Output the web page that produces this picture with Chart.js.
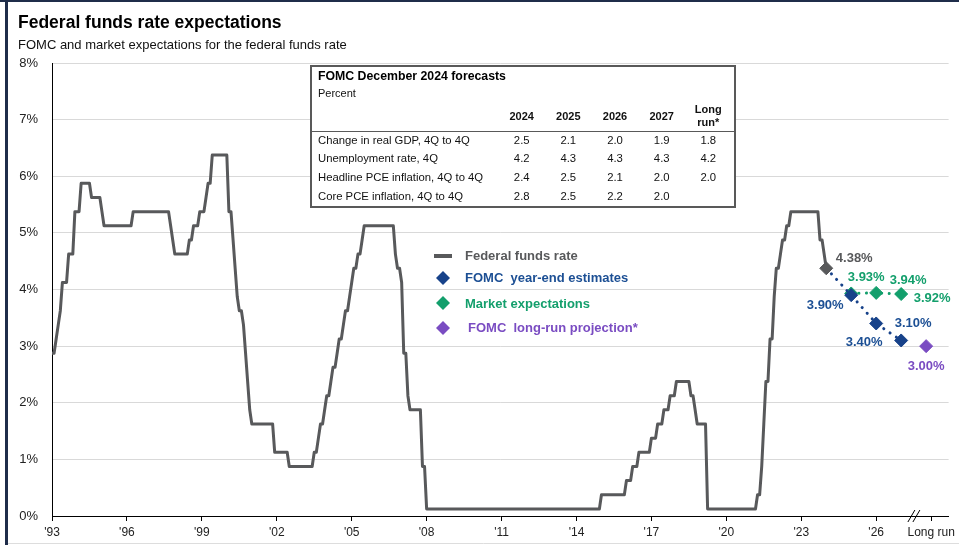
<!DOCTYPE html>
<html>
<head>
<meta charset="utf-8">
<title>Federal funds rate expectations</title>
<script src="https://cdn.jsdelivr.net/npm/chart.js@4.4.1/dist/chart.umd.min.js"></script>
<style>
  html, body { margin: 0; padding: 0; background: #fff; }
  #wrap { position: relative; width: 959px; height: 545px; overflow: hidden; }
</style>
</head>
<body>
<div id="wrap"><canvas id="chart" width="959" height="545"></canvas></div>
<script>
// Federal funds rate, month-end (vertices of the line)
const ffrMonths = [
  '1993-12','1994-01','1994-02','1994-03','1994-04','1994-05','1994-07','1994-08','1994-10','1994-11',
  '1995-01','1995-02','1995-06','1995-07','1995-11','1995-12','1996-01','1997-02','1997-03','1998-08',
  '1998-09','1998-10','1998-11','1999-05','1999-06','1999-07','1999-08','1999-10','1999-11','2000-01',
  '2000-02','2000-03','2000-04','2000-05','2000-12','2001-01','2001-02','2001-03','2001-04','2001-05',
  '2001-06','2001-07','2001-08','2001-09','2001-10','2001-11','2001-12','2002-10','2002-11','2003-05',
  '2003-06','2004-05','2004-06','2004-07','2004-08','2004-09','2004-10','2004-11','2004-12','2005-01',
  '2005-02','2005-03','2005-04','2005-05','2005-06','2005-07','2005-08','2005-09','2005-10','2005-11',
  '2005-12','2006-01','2006-02','2006-03','2006-04','2006-05','2006-06','2007-08','2007-09','2007-10',
  '2007-11','2007-12','2008-01','2008-02','2008-03','2008-04','2008-09','2008-10','2008-11','2008-12',
  '2015-11','2015-12','2016-11','2016-12','2017-02','2017-03','2017-05','2017-06','2017-11','2017-12',
  '2018-02','2018-03','2018-05','2018-06','2018-08','2018-09','2018-11','2018-12','2019-06','2019-07',
  '2019-08','2019-09','2019-10','2020-02','2020-03','2022-02','2022-03','2022-04','2022-05','2022-06',
  '2022-07','2022-08','2022-09','2022-10','2022-11','2022-12','2023-01','2023-02','2023-03','2023-04',
  '2023-05','2023-06','2023-07','2024-08','2024-09','2024-10','2024-11','2024-12'
];
const ffrValues = [
  2.875,2.875,3.125,3.375,3.625,4.125,4.125,4.625,4.625,5.375,
  5.375,5.875,5.875,5.625,5.625,5.375,5.125,5.125,5.375,5.375,
  5.125,4.875,4.625,4.625,4.875,4.875,5.125,5.125,5.375,5.375,
  5.625,5.875,5.875,6.375,6.375,5.375,5.375,4.875,4.375,3.875,
  3.625,3.625,3.375,2.875,2.375,1.875,1.625,1.625,1.125,1.125,
  0.875,0.875,1.125,1.125,1.375,1.625,1.625,1.875,2.125,2.125,
  2.375,2.625,2.625,2.875,3.125,3.125,3.375,3.625,3.625,3.875,
  4.125,4.375,4.375,4.625,4.625,4.875,5.125,5.125,4.625,4.375,
  4.375,4.125,2.875,2.875,2.125,1.875,1.875,0.875,0.875,0.125,
  0.125,0.375,0.375,0.625,0.625,0.875,0.875,1.125,1.125,1.375,
  1.375,1.625,1.625,1.875,1.875,2.125,2.125,2.375,2.375,2.125,
  2.125,1.875,1.625,1.625,0.125,0.125,0.375,0.375,0.875,1.625,
  2.375,2.375,3.125,3.125,3.875,4.375,4.375,4.625,4.875,4.875,
  5.125,5.125,5.375,5.375,4.875,4.875,4.625,4.375
];

// Projections
const lastFfrYear = 2024;
const lastFfrValue = 4.375;
const fomcYears = [2024, 2025, 2026, 2027];
const fomcValues = [4.375, 3.90, 3.40, 3.10];
const marketYears = [2025, 2026, 2027];
const marketValues = [3.93, 3.94, 3.92];
const longRunPos = 2028;
const longRunValue = 3.00;

// Axis ticks
const xTickValues = [1993, 1996, 1999, 2002, 2005, 2008, 2011, 2014, 2017, 2020, 2023, 2026, 2028.2];
const xTickLabels = ["'93", "'96", "'99", "'02", "'05", "'08", "'11", "'14", "'17", "'20", "'23", "'26", 'Long run'];
const yTickValues = [0, 1, 2, 3, 4, 5, 6, 7, 8];

// Forecast table
const tableTitle = 'FOMC December 2024 forecasts';
const tableUnit = 'Percent';
const tableCols = ['2024', '2025', '2026', '2027', 'Long run*'];
const tableRows = ['Change in real GDP, 4Q to 4Q', 'Unemployment rate, 4Q', 'Headline PCE inflation, 4Q to 4Q', 'Core PCE inflation, 4Q to 4Q'];
const tableValues = [
  ['2.5', '2.1', '2.0', '1.9', '1.8'],
  ['4.2', '4.3', '4.3', '4.3', '4.2'],
  ['2.4', '2.5', '2.1', '2.0', '2.0'],
  ['2.8', '2.5', '2.2', '2.0', '']
];

const legendLabels = ['Federal funds rate', 'FOMC  year-end estimates', 'Market expectations', 'FOMC  long-run projection*'];

const FONT = "'Liberation Sans', Arial, Helvetica, sans-serif";
const GRAY = '#58595b';
const BLUE = '#17428a';
const BLUE_TXT = '#1c4f94';
const GREEN = '#139f6c';
const PURPLE = '#7a4cc2';

// month string -> position where December of year Y sits on Y
function monthPos(s) {
  const [y, m] = s.split('-').map(Number);
  return y + (m - 12) / 12;
}
const xy = (xs, ys) => xs.map((x, i) => ({ x: x, y: ys[i] }));

function diamond(ctx, x, y, r, color) {
  ctx.save();
  ctx.fillStyle = color;
  ctx.beginPath();
  ctx.moveTo(x, y - r);
  ctx.lineTo(x + r, y);
  ctx.lineTo(x, y + r);
  ctx.lineTo(x - r, y);
  ctx.closePath();
  ctx.fill();
  ctx.restore();
}

const extras = {
  id: 'extras',
  beforeDraw(chart) {
    const ctx = chart.ctx;
    ctx.save();
    ctx.fillStyle = '#fff';
    ctx.fillRect(0, 0, chart.width, chart.height);
    ctx.restore();
  },
  afterDatasetsDraw(chart) {
    const ctx = chart.ctx;
    // point labels
    ctx.save();
    ctx.font = 'bold 13px ' + FONT;
    ctx.textAlign = 'center';
    ctx.textBaseline = 'middle';
    chart.data.datasets.forEach((ds, di) => {
      if (!ds.tags) return;
      const meta = chart.getDatasetMeta(di);
      ds.tags.forEach((t, i) => {
        if (!t) return;
        const p = meta.data[i];
        ctx.fillStyle = ds.tagColor;
        ctx.fillText(ds.data[i].y.toFixed(2) + '%', p.x + t[0], p.y + t[1]);
      });
    });
    ctx.restore();

    // legend
    ctx.save();
    ctx.font = 'bold 13px ' + FONT;
    ctx.textBaseline = 'middle';
    ctx.strokeStyle = GRAY;
    ctx.lineWidth = 4;
    ctx.beginPath(); ctx.moveTo(434, 256); ctx.lineTo(452, 256); ctx.stroke();
    ctx.fillStyle = GRAY; ctx.fillText(legendLabels[0], 465, 256);
    diamond(ctx, 443, 278, 7, BLUE);
    ctx.fillStyle = BLUE_TXT; ctx.fillText(legendLabels[1], 465, 278);
    diamond(ctx, 443, 303, 7, GREEN);
    ctx.fillStyle = GREEN; ctx.fillText(legendLabels[2], 465, 304);
    diamond(ctx, 443, 328, 7, PURPLE);
    ctx.fillStyle = PURPLE; ctx.fillText(legendLabels[3], 468, 328);
    ctx.restore();
  },
  afterDraw(chart) {
    const ctx = chart.ctx;
    const xs = chart.scales.x;
    ctx.save();
    // frame
    ctx.fillStyle = '#1f2d4a';
    ctx.fillRect(0, 0, chart.width, 2);
    ctx.fillRect(5, 0, 3, chart.height);
    ctx.strokeStyle = '#dddddd';
    ctx.lineWidth = 1;
    ctx.beginPath(); ctx.moveTo(8, 543.5); ctx.lineTo(chart.width, 543.5); ctx.stroke();

    // title
    ctx.fillStyle = '#000';
    ctx.textBaseline = 'alphabetic';
    ctx.font = 'bold 17.5px ' + FONT;
    ctx.fillText('Federal funds rate expectations', 18, 28);
    ctx.font = '13px ' + FONT;
    ctx.fillStyle = '#111';
    ctx.fillText('FOMC and market expectations for the federal funds rate', 18, 48.5);

    // axis break
    const bx = xs.getPixelForValue(2027.55);
    const by = chart.scales.y.getPixelForValue(0);
    ctx.strokeStyle = '#000';
    ctx.lineWidth = 1;
    ctx.beginPath();
    ctx.moveTo(bx - 7, by + 6); ctx.lineTo(bx, by - 6);
    ctx.moveTo(bx - 2, by + 6); ctx.lineTo(bx + 5, by - 6);
    ctx.stroke();

    // forecast table
    const L = 311, R = 735, T = 66, B = 207;
    ctx.fillStyle = '#fff';
    ctx.fillRect(L, T, R - L, B - T);
    ctx.strokeStyle = '#595959';
    ctx.lineWidth = 2;
    ctx.strokeRect(L, T, R - L, B - T);
    ctx.fillStyle = '#000';
    ctx.font = 'bold 12.3px ' + FONT;
    ctx.fillText(tableTitle, 318, 80);
    ctx.font = '11px ' + FONT;
    ctx.fillStyle = '#111';
    ctx.fillText(tableUnit, 318, 96.5);
    const colX = [521.7, 568.3, 615, 661.7, 708.3];
    ctx.textAlign = 'center';
    ctx.font = 'bold 11px ' + FONT;
    tableCols.forEach((c, i) => {
      const parts = c.split(' ');
      if (parts.length > 1) {
        ctx.fillText(parts[0], colX[i], 113);
        ctx.fillText(parts[1], colX[i], 125.5);
      } else {
        ctx.fillText(c, colX[i], 120);
      }
    });
    ctx.strokeStyle = '#595959';
    ctx.lineWidth = 1;
    ctx.beginPath(); ctx.moveTo(L, 131.5); ctx.lineTo(R, 131.5); ctx.stroke();
    const rowY = [143.5, 162, 181, 200];
    ctx.font = '11.3px ' + FONT;
    tableRows.forEach((r, ri) => {
      ctx.textAlign = 'left';
      ctx.fillText(r, 318, rowY[ri]);
      ctx.textAlign = 'center';
      tableValues[ri].forEach((v, ci) => ctx.fillText(v, colX[ci], rowY[ri]));
    });
    ctx.restore();
  }
};

new Chart(document.getElementById('chart').getContext('2d'), {
  type: 'line',
  data: {
    datasets: [
      {
        // last actual value
        data: [{ x: lastFfrYear, y: lastFfrValue }],
        showLine: false,
        pointStyle: 'rectRot',
        pointRadius: 6.5,
        pointBackgroundColor: GRAY,
        pointBorderColor: GRAY,
        pointBorderWidth: 1,
        tags: [[28, -10]],
        tagColor: GRAY
      },
      {
        data: [{ x: longRunPos, y: longRunValue }],
        showLine: false,
        pointStyle: 'rectRot',
        pointRadius: 6.5,
        pointBackgroundColor: PURPLE,
        pointBorderColor: PURPLE,
        pointBorderWidth: 1,
        tags: [[0, 20]],
        tagColor: PURPLE
      },
      {
        data: xy(fomcYears, fomcValues),
        borderColor: BLUE,
        borderWidth: 3,
        borderDash: [0.1, 7.5],
        borderCapStyle: 'round',
        pointStyle: 'rectRot',
        pointRadius: [0, 6.5, 6.5, 6.5],
        pointBackgroundColor: BLUE,
        pointBorderColor: BLUE,
        pointBorderWidth: 1,
        tags: [null, [-26, 10], [-12, 19], [12, -17]],
        tagColor: BLUE_TXT
      },
      {
        data: xy(marketYears, marketValues),
        borderColor: GREEN,
        borderWidth: 3,
        borderDash: [0.1, 7.5],
        borderCapStyle: 'round',
        pointStyle: 'rectRot',
        pointRadius: 6.5,
        pointBackgroundColor: GREEN,
        pointBorderColor: GREEN,
        pointBorderWidth: 1,
        tags: [[15, -16], [32, -12], [31, 4]],
        tagColor: GREEN
      },
      {
        data: xy(ffrMonths.map(monthPos), ffrValues),
        borderColor: GRAY,
        borderWidth: 3,
        borderJoinStyle: 'round',
        pointRadius: 0,
        tension: 0
      }
    ]
  },
  options: {
    responsive: false,
    animation: false,
    layout: { padding: { top: 63, right: 9, left: 0, bottom: 0 } },
    plugins: { legend: { display: false }, tooltip: { enabled: false } },
    scales: {
      x: {
        type: 'linear',
        min: 1993,
        max: 2028.9,
        afterFit: s => { s.height = 29; },
        afterBuildTicks: s => { s.ticks = xTickValues.map(v => ({ value: v })); },
        border: { display: true, color: '#000', width: 1 },
        grid: { drawOnChartArea: false, drawTicks: true, tickLength: 5, color: '#000' },
        ticks: {
          autoSkip: false,
          maxRotation: 0,
          padding: 4,
          color: '#222',
          font: { family: FONT, size: 12 },
          callback: (v, i) => xTickLabels[i]
        }
      },
      y: {
        min: 0,
        max: 8,
        afterFit: s => { s.width = 52; },
        afterBuildTicks: s => { s.ticks = yTickValues.map(v => ({ value: v })); },
        border: { display: true, color: '#000', width: 1 },
        grid: { color: '#d9d9d9', lineWidth: 1, drawTicks: false },
        ticks: {
          padding: 14,
          color: '#222',
          font: { family: FONT, size: 13 },
          callback: v => v + '%'
        }
      }
    }
  },
  plugins: [extras]
});
</script>
</body>
</html>
